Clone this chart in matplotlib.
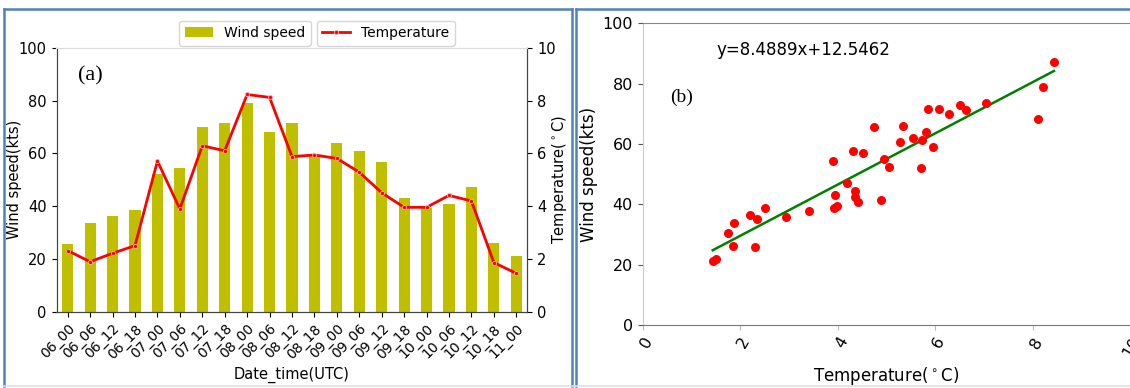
import numpy as np
import matplotlib
matplotlib.use('Agg')
import matplotlib.pyplot as plt
from matplotlib.lines import Line2D

# Panel (a): 6-hourly wind speed and temperature
times = ['06_00', '06_06', '06_12', '06_18', '07_00', '07_06', '07_12', '07_18',
         '08_00', '08_06', '08_12', '08_18', '09_00', '09_06', '09_12', '09_18',
         '10_00', '10_06', '10_12', '10_18', '11_00']
wind = [25.7, 33.8, 36.3, 38.7, 52.2, 54.4, 70.1, 71.5, 79.2, 68.2, 71.5,
        59.4, 64.0, 60.9, 56.6, 43.1, 39.5, 40.9, 47.2, 26.0, 21.2]
temp = [2.32, 1.90, 2.22, 2.51, 5.71, 3.90, 6.29, 6.10, 8.23, 8.12, 5.88,
        5.94, 5.81, 5.29, 4.51, 3.96, 3.96, 4.41, 4.20, 1.87, 1.46]

# Panel (b): scatter of temperature against wind speed
sc_temp = [8.44, 8.22, 8.11, 7.05, 6.51, 6.63, 6.29, 6.09, 5.85, 5.82, 5.95,
           5.74, 5.55, 5.71, 5.34, 5.29, 4.74, 4.96, 5.05, 4.53, 4.32, 3.90,
           4.19, 3.95, 4.35, 4.36, 4.42, 4.89, 3.93, 3.98, 3.41, 2.95, 2.51,
           2.21, 2.34, 2.31, 1.88, 1.75, 1.85, 1.50, 1.44]
sc_wind = [87.1, 79.0, 68.3, 73.6, 73.0, 71.4, 70.0, 71.5, 71.5, 64.1, 59.1,
           61.3, 62.1, 52.1, 65.8, 60.8, 65.7, 55.1, 52.3, 56.9, 57.8, 54.5,
           47.2, 43.1, 44.5, 42.5, 40.8, 41.4, 38.8, 39.6, 37.8, 35.9, 38.9,
           36.5, 35.2, 25.9, 33.7, 30.6, 26.1, 22.0, 21.2]
slope, intercept = 8.4889, 12.5462

fig = plt.figure(figsize=(11.3, 3.88), dpi=100)

# ---- (a) ----
ax = fig.add_axes([0.050, 0.196, 0.4168, 0.681])
x = np.arange(len(times))
bars = ax.bar(x, wind, width=0.5, color='#bfbf00')
ax.set_xlim(-0.5, len(times) - 0.5)
ax.set_ylim(0, 100)
ax.set_xticks(x)
ax.set_xticklabels(times, rotation=45, ha='right', rotation_mode='anchor', fontsize=10)
ax.tick_params(axis='y', labelsize=10.5)
ax.set_xlabel('Date_time(UTC)', fontsize=10.5)
ax.set_ylabel('Wind speed(kts)', fontsize=10.5)
ax.yaxis.set_label_coords(-0.074, 0.5)
ax.text(0.046, 0.893, '(a)', transform=ax.transAxes, va='center', ha='left',
        fontsize=16, family='Liberation Serif')

ax2 = ax.twinx()
ln, = ax2.plot(x, temp, color='red', lw=2, marker='o', ms=3,
               mfc='red', mec='#ffb0b0', mew=0.6)
ax2.set_ylim(0, 10)
ax2.tick_params(axis='y', labelsize=10.5)
ax2.set_ylabel('Temperature($^\\circ$C)', fontsize=10.5)
ax2.yaxis.set_label_coords(1.047, 0.5)

for a in (ax, ax2):
    for s in ('left', 'right', 'bottom'):
        a.spines[s].set_color('#444444')
    a.spines['top'].set_color('#dddddd')

fig.legend([bars], ['Wind speed'], loc='upper center',
           bbox_to_anchor=(0.2168, 0.965), fontsize=10)
fig.legend([ln], ['Temperature'], loc='upper center',
           bbox_to_anchor=(0.3414, 0.965), fontsize=10)

# ---- (b) ----
bx = fig.add_axes([0.5686, 0.1624, 0.4314, 0.7776])
bx.scatter(sc_temp, sc_wind, s=30, color='red', zorder=3)
xl = np.array([min(sc_temp), max(sc_temp)])
bx.plot(xl, slope * xl + intercept, color='green', lw=1.8)
bx.set_xlim(0, 10)
bx.set_ylim(0, 100)
bx.set_xticks([0, 2, 4, 6, 8, 10])
bx.set_yticks([0, 20, 40, 60, 80, 100])
bx.tick_params(axis='x', labelsize=11.5, labelrotation=60, color='#bbbbbb')
bx.tick_params(axis='y', labelsize=11.5, color='#555555')
for lab in bx.get_xticklabels():
    lab.set_ha('right')
    lab.set_rotation_mode('anchor')
bx.set_xlabel('Temperature($^\\circ$C)', fontsize=12)
bx.set_ylabel('Wind speed(kts)', fontsize=12)
bx.yaxis.set_label_coords(-0.092, 0.5)
bx.spines['right'].set_visible(False)
bx.spines['left'].set_color('#cccccc')
bx.spines['bottom'].set_color('#777777')
bx.spines['top'].set_color('#888888')
bx.text(1.51, 91.3, 'y=%.4fx+%.4f' % (slope, intercept), fontsize=12, va='center')
bx.text(0.56, 75.4, '(b)', fontsize=14, va='center', family='Liberation Serif')

# panel frames
blue = '#4f81bd'
def seg(x0, y0, x1, y1, c=blue, lw=1.8):
    fig.add_artist(Line2D([x0 / 1130, x1 / 1130], [1 - y0 / 388, 1 - y1 / 388],
                          color=c, lw=lw))
seg(3.5, 9, 572, 9)
seg(3.5, 9, 3.5, 386)
seg(572, 9, 572, 386)
seg(576, 9, 1130, 9)
seg(576, 9, 576, 386)
seg(3.5, 386, 1130, 386, c='#e0e0e0', lw=1.2)

fig.savefig('out.png', dpi=100)
